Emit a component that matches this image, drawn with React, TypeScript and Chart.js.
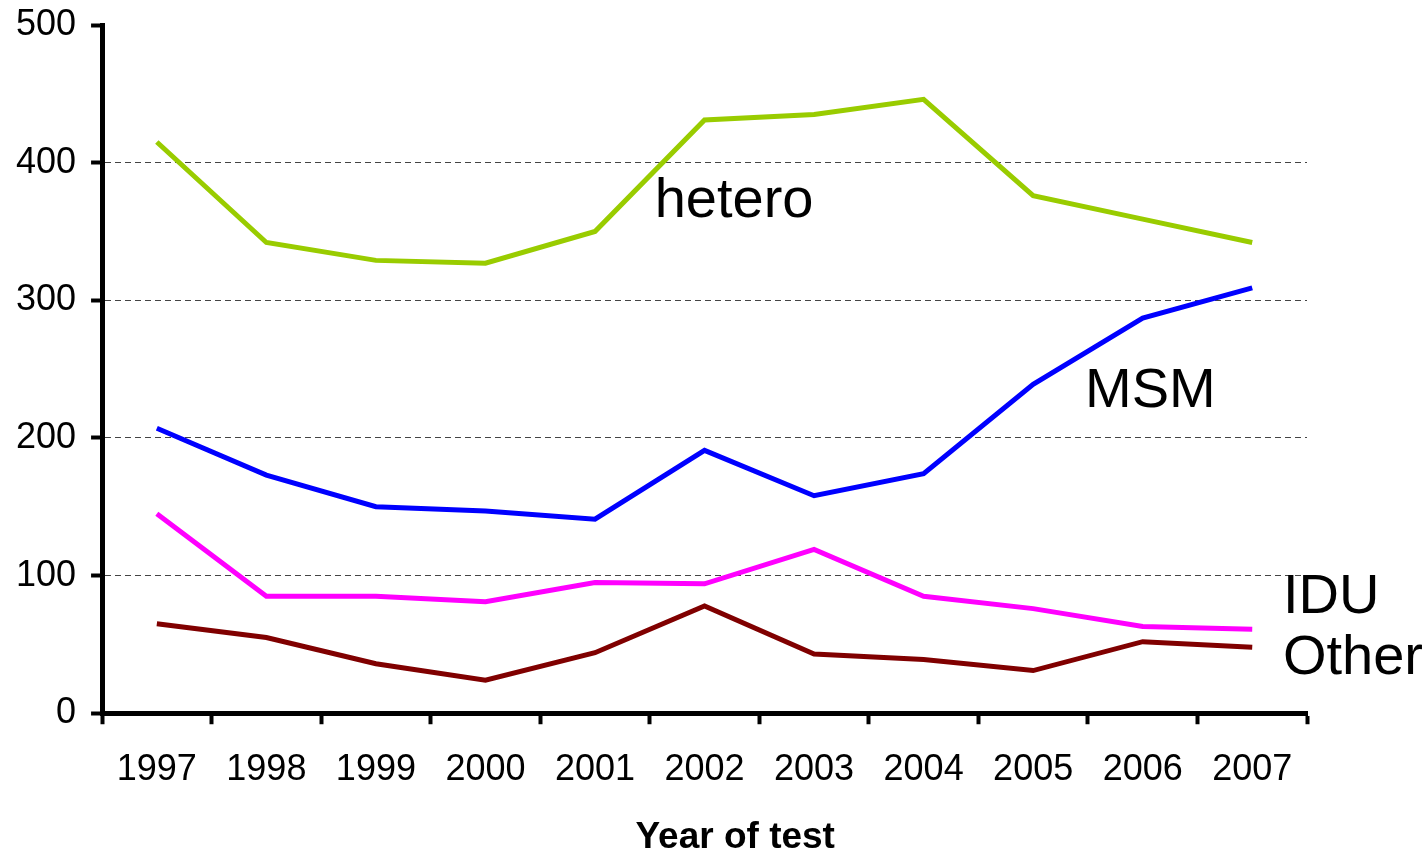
import React, { useEffect, useRef } from "react";
import { Chart, registerables } from "chart.js";

Chart.register(...registerables);

const years = ["1997", "1998", "1999", "2000", "2001", "2002", "2003", "2004", "2005", "2006", "2007"];
const hetero = [415, 342, 329, 327, 350, 431, 435, 446, 376, 359, 342];
const msm = [207, 173, 150, 147, 141, 191, 158, 174, 239, 287, 309];
const idu = [145, 85, 85, 81, 95, 94, 119, 85, 76, 63, 61];
const other = [65, 55, 36, 24, 44, 78, 43, 39, 31, 52, 48];
const seriesNames = ["hetero", "MSM", "IDU", "Other"];
const yTicks = [0, 100, 200, 300, 400, 500];
const xTitle = "Year of test";

// label anchors in data coordinates (category index, value)
const labelAnchors = [
  { x: 5.27, y: 372, align: "center" as CanvasTextAlign },
  { x: 9.07, y: 234, align: "center" as CanvasTextAlign },
  { x: 10.28, y: 84, align: "left" as CanvasTextAlign },
  { x: 10.28, y: 40, align: "left" as CanvasTextAlign },
];
const xTitleCenterIndex = 5.28;

const FONT = "'Liberation Sans', Arial, Helvetica, sans-serif";
const TITLE_SIZE = 37;
const TITLE_LH = 0.88;

const labelPlugin = {
  id: "seriesLabels",
  afterDatasetsDraw(chart: any) {
    const { ctx, scales } = chart;
    ctx.save();
    ctx.font = `56px ${FONT}`;
    ctx.fillStyle = "#000";
    ctx.textBaseline = "middle";
    seriesNames.forEach((name, i) => {
      const a = labelAnchors[i];
      ctx.textAlign = a.align;
      ctx.fillText(name, scales.x.getPixelForValue(a.x), scales.y.getPixelForValue(a.y));
    });
    ctx.font = `bold ${TITLE_SIZE}px ${FONT}`;
    ctx.textAlign = "center";
    ctx.fillText(
      xTitle,
      scales.x.getPixelForValue(xTitleCenterIndex),
      scales.x.bottom - (TITLE_SIZE * TITLE_LH) / 2
    );
    ctx.restore();
  },
};

export default function App() {
  const ref = useRef<HTMLCanvasElement | null>(null);
  useEffect(() => {
    if (!ref.current) return;
    const chart = new Chart(ref.current, {
      type: "line",
      data: {
        labels: years,
        datasets: [
          { label: seriesNames[0], data: hetero, borderColor: "#99CC00" },
          { label: seriesNames[1], data: msm, borderColor: "#0000FF" },
          { label: seriesNames[2], data: idu, borderColor: "#FF00FF" },
          { label: seriesNames[3], data: other, borderColor: "#800000" },
        ].map((d) => ({ ...d, borderWidth: 5, pointRadius: 0, tension: 0, fill: false })),
      },
      options: {
        animation: false,
        responsive: true,
        maintainAspectRatio: false,
        layout: { padding: { top: 25, right: 118, left: 1, bottom: 0 } },
        plugins: { legend: { display: false }, tooltip: { enabled: false } },
        scales: {
          x: {
            type: "category",
            offset: true,
            grid: {
              offset: true,
              drawOnChartArea: false,
              drawTicks: true,
              tickLength: 11,
              tickWidth: 4,
              tickColor: "#000",
            },
            border: { display: true, color: "#000", width: 5 },
            ticks: { color: "#000", font: { family: FONT, size: 36 }, padding: 24, maxRotation: 0 },
            title: {
              display: true,
              text: xTitle,
              color: "rgba(0,0,0,0)",
              font: { family: FONT, size: TITLE_SIZE, weight: "bold", lineHeight: TITLE_LH },
              padding: { top: 6, bottom: 0 },
            },
          },
          y: {
            min: 0,
            max: 500,
            afterBuildTicks: (s: any) => {
              s.ticks = yTicks.map((v) => ({ value: v }));
            },
            afterFit: (s: any) => {
              s.paddingTop = 0;
              s.paddingBottom = 0;
            },
            grid: {
              color: (c: any) => (c.tick && (c.tick.value === 0 || c.tick.value === 500) ? "rgba(0,0,0,0)" : "#444"),
              lineWidth: 1,
              drawTicks: true,
              tickLength: 11,
              tickWidth: 4,
              tickColor: "#000",
            },
            border: { display: true, color: "#000", width: 5, dash: [6, 4] },
            ticks: { color: "#000", font: { family: FONT, size: 36 }, padding: 15 },
          },
        },
      },
      plugins: [labelPlugin],
    });
    return () => chart.destroy();
  }, []);
  return (
    <div style={{ position: "fixed", left: 0, top: 0, width: 1425, height: 854 }}>
      <canvas ref={ref} />
    </div>
  );
}
